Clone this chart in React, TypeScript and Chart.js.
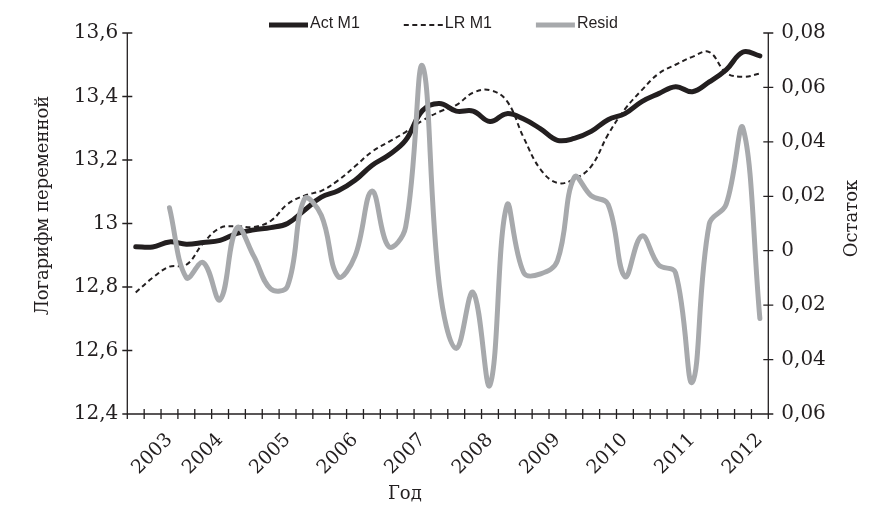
import React, { useEffect, useRef } from "react";
import { Chart, registerables } from "chart.js";

Chart.register(...registerables);

const categories: string[] = [
  "", "", "2003", "", "", "2004", "", "", "", "2005",
  "", "", "", "2006", "", "", "", "2007", "", "",
  "", "2008", "", "", "", "2009", "", "", "", "2010",
  "", "", "", "2011", "", "", "", "2012",
];

const actM1: number[] = [
  12.927, 12.926, 12.942, 12.935, 12.94, 12.947, 12.969, 12.98, 12.987, 13.0,
  13.042, 13.083, 13.103, 13.136, 13.183, 13.216, 13.262, 13.356, 13.378, 13.354,
  13.354, 13.321, 13.346, 13.329, 13.298, 13.262, 13.268, 13.29, 13.327, 13.346,
  13.384, 13.409, 13.431, 13.415, 13.446, 13.484, 13.54, 13.528,
];

const lrM1: number[] = [
  12.783, 12.829, 12.864, 12.87, 12.938, 12.986, 12.991, 12.989, 13.008, 13.061,
  13.088, 13.103, 13.136, 13.18, 13.226, 13.257, 13.288, 13.324, 13.352, 13.373,
  13.412, 13.42, 13.386, 13.27, 13.17, 13.128, 13.14, 13.18, 13.28, 13.36,
  13.42, 13.472, 13.5, 13.525, 13.54, 13.475, 13.462, 13.472,
];

const resid: (number | null)[] = [
  null, null, 0.0158, -0.0099, -0.0044, -0.018, 0.0084, -0.002, -0.014, -0.013,
  0.019, 0.013, -0.0095, -0.002, 0.0219, 0.0015, 0.0087, 0.0679, -0.0128, -0.0359,
  -0.0153, -0.0494, 0.0166, -0.0081, -0.0085, -0.0037, 0.027, 0.0202, 0.0171, -0.0095,
  0.0054, -0.0052, -0.0081, -0.0483, 0.0098, 0.017, 0.045, -0.0249,
];

const seriesNames = ["Act M1", "LR M1", "Resid"];
const leftTitle = "Логарифм переменной";
const rightTitle = "Остаток";
const xTitle = "Год";

const INK = "#231f20";
const GREY = "#a7a9ac";
const SERIF = "'DejaVu Serif', serif";
const SANS = "'Liberation Sans', Arial, sans-serif";

const fmtComma = (v: number, digits: number) => {
  const r = Math.round(v * Math.pow(10, digits)) / Math.pow(10, digits);
  return String(Math.abs(r) < 1e-9 ? 0 : Math.abs(r)).replace(".", ",");
};

const decorPlugin = {
  id: "decor",
  afterDraw(chart: any) {
    const { ctx, chartArea: a, scales } = chart;
    const xs = scales.x;
    const yL = scales.y;
    const yR = scales.y2;
    ctx.save();
    ctx.strokeStyle = INK;
    ctx.lineWidth = 1.3;
    ctx.setLineDash([]);
    ctx.beginPath();
    ctx.moveTo(a.left, a.top);
    ctx.lineTo(a.left, a.bottom);
    ctx.moveTo(a.right, a.top);
    ctx.lineTo(a.right, a.bottom);
    ctx.moveTo(a.left, a.bottom);
    ctx.lineTo(a.right, a.bottom);
    yL.ticks.forEach((_t: any, i: number) => {
      const py = yL.getPixelForTick(i);
      ctx.moveTo(a.left - 5, py);
      ctx.lineTo(a.left + 5, py);
    });
    yR.ticks.forEach((_t: any, i: number) => {
      const py = yR.getPixelForTick(i);
      ctx.moveTo(a.right - 5, py);
      ctx.lineTo(a.right + 5, py);
    });
    const n = categories.length;
    const p0 = xs.getPixelForValue(0);
    const step = xs.getPixelForValue(1) - p0;
    for (let i = 0; i <= n; i++) {
      const px = p0 + (i - 0.5) * step;
      ctx.moveTo(px, a.bottom - 5);
      ctx.lineTo(px, a.bottom + 5);
    }
    ctx.stroke();

    // axis titles
    ctx.fillStyle = INK;
    ctx.font = `18px ${SERIF}`;
    ctx.textAlign = "center";
    ctx.textBaseline = "middle";
    const midY = (a.top + a.bottom) / 2;
    ctx.save();
    ctx.translate(a.left - 84, midY - 18);
    ctx.rotate(-Math.PI / 2);
    ctx.fillText(leftTitle, 0, 0);
    ctx.restore();
    ctx.save();
    ctx.translate(a.right + 84, midY - 5);
    ctx.rotate(-Math.PI / 2);
    ctx.fillText(rightTitle, 0, 0);
    ctx.restore();
    ctx.fillText(xTitle, (a.left + a.right) / 2 - 43, a.bottom + 80);

    // legend
    ctx.font = `16px ${SANS}`;
    ctx.textAlign = "left";
    let lx = 261;
    const ly = 16;
    chart.data.datasets.forEach((ds: any) => {
      ctx.save();
      ctx.strokeStyle = ds.borderColor;
      ctx.lineWidth = ds.legendWidth;
      ctx.setLineDash(ds.borderDash || []);
      ctx.beginPath();
      ctx.moveTo(lx, ly + 1);
      ctx.lineTo(lx + 39, ly + 1);
      ctx.stroke();
      ctx.restore();
      ctx.fillStyle = INK;
      ctx.fillText(ds.label, lx + 41, ly);
      lx += 41 + ctx.measureText(ds.label).width + 44;
    });
    ctx.restore();
  },
};

export default function App() {
  const ref = useRef<HTMLCanvasElement | null>(null);
  useEffect(() => {
    if (!ref.current) return;
    const chart = new Chart(ref.current, {
      type: "line",
      data: {
        labels: categories,
        datasets: [
          {
            label: seriesNames[0],
            data: actM1,
            yAxisID: "y",
            borderColor: INK,
            borderWidth: 5,
            pointRadius: 0,
            tension: 0.4,
            borderJoinStyle: "round",
            borderCapStyle: "round",
            order: 1,
            legendWidth: 5,
          } as any,
          {
            label: seriesNames[1],
            data: lrM1,
            yAxisID: "y",
            borderColor: INK,
            borderWidth: 2,
            borderDash: [5, 3.5],
            pointRadius: 0,
            tension: 0.4,
            order: 2,
            legendWidth: 2,
          } as any,
          {
            label: seriesNames[2],
            data: resid,
            yAxisID: "y2",
            borderColor: GREY,
            borderWidth: 5,
            pointRadius: 0,
            tension: 0.4,
            borderJoinStyle: "round",
            borderCapStyle: "round",
            spanGaps: false,
            order: 0,
            legendWidth: 5,
          } as any,
        ],
      },
      options: {
        animation: false,
        responsive: true,
        maintainAspectRatio: false,
        layout: { padding: { top: 23, left: 0, right: 0, bottom: 0 } },
        plugins: {
          legend: { display: false },
          tooltip: { enabled: false },
        },
        scales: {
          x: {
            type: "category",
            offset: true,
            grid: { display: false, drawTicks: false },
            border: { display: false },
            ticks: {
              autoSkip: false,
              maxRotation: 45,
              minRotation: 45,
              padding: 15,
              color: INK,
              font: { family: SERIF, size: 19 },
            },
            afterFit: (s: any) => {
              s.height = 108;
            },
          },
          y: {
            position: "left",
            min: 12.4,
            max: 13.6,
            grid: { display: false, drawTicks: false },
            border: { display: false },
            ticks: {
              stepSize: 0.2,
              padding: 9,
              color: INK,
              font: { family: SERIF, size: 20 },
              callback: (v: any) => fmtComma(Number(v), 1),
            },
            afterFit: (s: any) => {
              s.width = 119.3;
            },
          },
          y2: {
            position: "right",
            min: -0.06,
            max: 0.08,
            grid: { display: false, drawTicks: false },
            border: { display: false },
            ticks: {
              stepSize: 0.02,
              padding: 13,
              color: INK,
              font: { family: SERIF, size: 20 },
              callback: (v: any) => (Math.abs(Number(v)) < 1e-9 ? "0" : fmtComma(Number(v), 2)),
            },
            afterFit: (s: any) => {
              s.width = 102.7;
            },
          },
        },
      } as any,
      plugins: [decorPlugin],
    });
    return () => chart.destroy();
  }, []);
  return (
    <div style={{ position: "relative", width: "100%", height: 514 }}>
      <canvas ref={ref} />
    </div>
  );
}
